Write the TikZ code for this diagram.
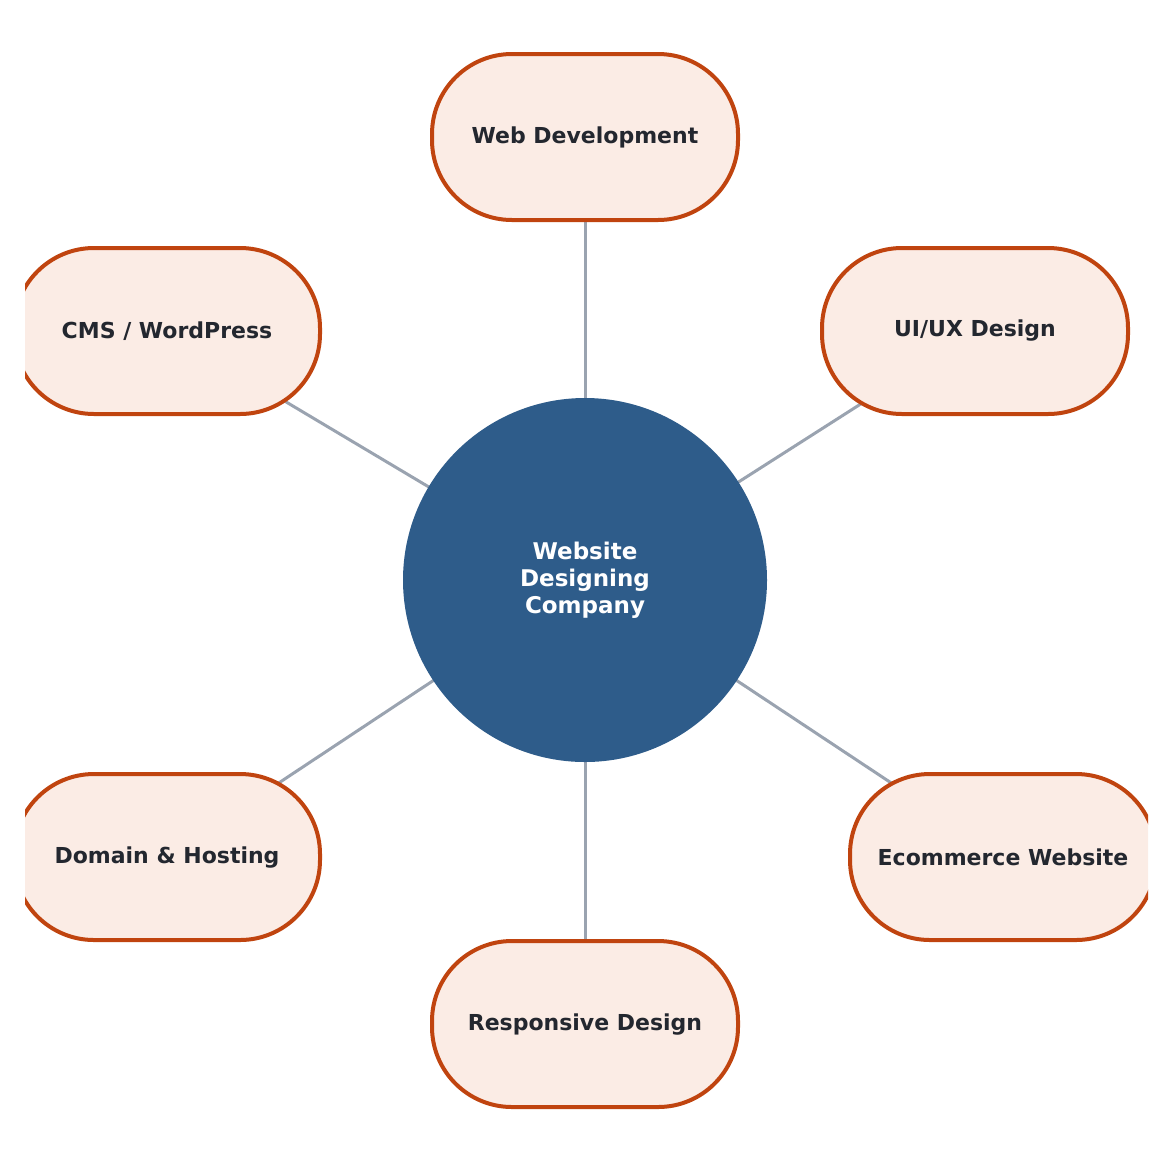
\documentclass[tikz,border=0pt]{standalone}
\usepackage{fontspec}
\setmainfont{DejaVu Sans}
\usetikzlibrary{positioning,backgrounds}
\definecolor{hubblue}{HTML}{2E5C8A}
\definecolor{boxedge}{HTML}{C0440F}
\definecolor{boxfill}{HTML}{FBECE5}
\definecolor{spoke}{HTML}{9AA3B0}
\definecolor{ink}{HTML}{23272F}
\tikzset{
  topic/.style={draw=boxedge, fill=boxfill, line width=2pt, rounded corners=40pt,
    minimum width=153pt, minimum height=83pt, text=ink, font=\bfseries\fontsize{11}{13}\selectfont},
  hub/.style={circle, fill=hubblue, minimum size=182pt, text=white, align=center,
    font=\bfseries\fontsize{11.5}{13.5}\selectfont},
  link/.style={draw=spoke, line width=1.5pt}
}
\begin{document}
\begin{tikzpicture}[x=0.5pt,y=-0.5pt]
  \useasboundingbox (0,0) rectangle (1170,1162);
  \clip (25,0) rectangle (1148,1162);
  \node[hub] (hub) at (585,580) {Website\\Designing\\Company};
  \node[topic] (web) at (585,137) {Web Development};
  \node[topic] (cms) at (167,331) {CMS / WordPress};
  \node[topic] (uiux) at (975,331) {UI/UX Design};
  \node[topic] (domain) at (167,857) {Domain \& Hosting};
  \node[topic] (shop) at (1003,857) {Ecommerce Website};
  \node[topic] (resp) at (585,1024) {Responsive Design};
  \begin{scope}[on background layer]
    \foreach \n in {web,cms,uiux,domain,shop,resp}
      \path[link] (hub.center) -- (\n.center);
  \end{scope}
\end{tikzpicture}
\end{document}
